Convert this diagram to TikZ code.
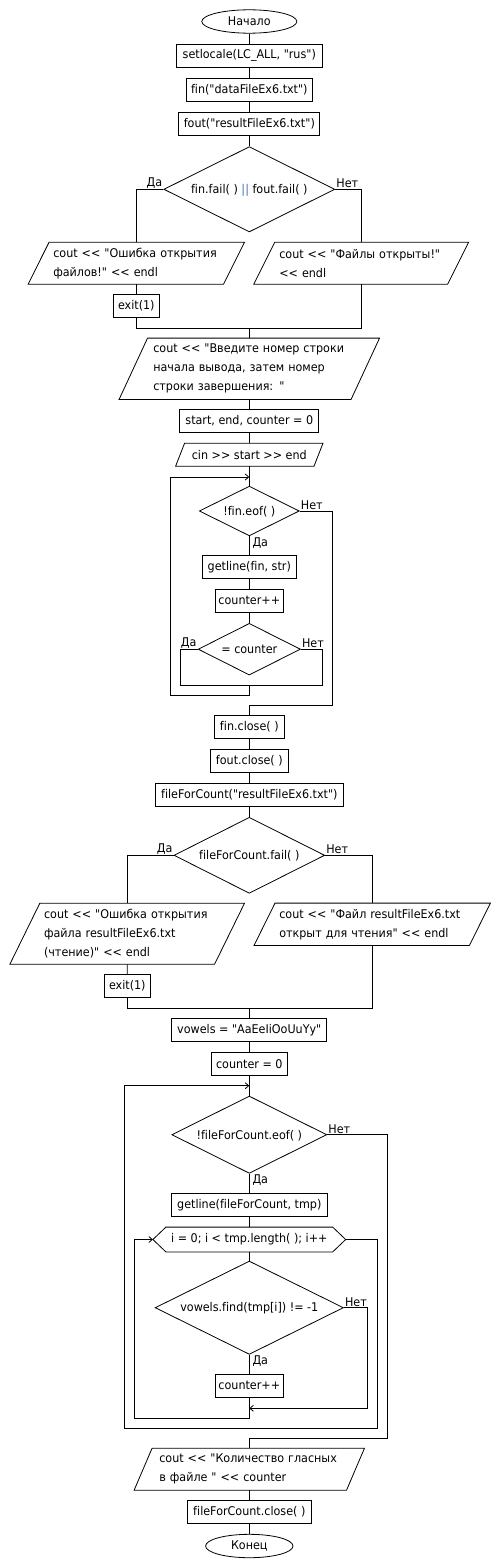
\documentclass[tikz,border=0pt]{standalone}
\usepackage{fontspec}
\setmainfont{DejaVu Sans}[Ligatures={TeXOff,NoCommon},FakeStretch=0.93]
\usetikzlibrary{arrows.meta,shapes.geometric}
\definecolor{barblue}{HTML}{2E6FD0}
\begin{document}
\begin{tikzpicture}[x=1pt,y=-1pt,
  every node/.style={font=\fontsize{12}{19}\selectfont, inner sep=0pt, align=left},
  ln/.style={line width=0.8pt},
  arr/.style={ln,-{Straight Barb[length=3.5pt,width=6pt]}},
  box/.style={draw, ln, rectangle, minimum height=23pt},
  term/.style={draw, ln, ellipse, minimum height=23.4pt},
  dec/.style={draw, ln, diamond, aspect=2},
  io/.style={rectangle},
  lbl/.style={font=\fontsize{12}{13}\selectfont, inner sep=1pt}]
\newcommand\drawpara[2]{\draw[ln] ([xshift=#2pt]#1.north west) -- ([xshift=#2pt]#1.north east) -- ([xshift=-#2pt]#1.south east) -- ([xshift=-#2pt]#1.south west) -- cycle;}
\useasboundingbox (0,0) rectangle (500,1568);

% top section
\node[term, minimum width=95pt] (start) at (249.3,21.5) {Начало};
\node[box, minimum width=146pt] (setloc) at (249.3,55.7) {setlocale(LC\_ALL, "rus")};
\node[box, minimum width=126pt] (fin) at (249.3,89.9) {fin("dataFileEx6.txt")};
\node[box, minimum width=141pt] (fout) at (249.3,124) {fout("resultFileEx6.txt")};
\node[dec, minimum width=171pt, minimum height=85.3pt] (d1) at (249.3,189.3) {};
\node (d1t) at (249.3,190) {fin.fail( ) {\color{barblue}||} fout.fail( )};
\node[lbl, anchor=south east] (d1y) at (d1.west) {Да};
\node[lbl, anchor=south west] (d1n) at (d1.east) {Нет};

\node[io, inner xsep=14.5pt, text width=166pt, minimum height=41.7pt] (p1) at (136.3,263.2) {\mbox{cout << "Ошибка открытия}\\\mbox{файлов!" << endl}};
\drawpara{p1}{10.5}
\node[io, inner xsep=14.85pt, text width=163.8pt, minimum height=41.7pt] (p2) at (361.2,263.2) {\mbox{cout << "Файлы открыты!"}\\\mbox{<< endl}};
\drawpara{p2}{10.5}
\node[box, minimum width=46pt] (ex1) at (136.3,305.8) {exit(1)};
\coordinate (m1) at (249.3,328.3);

\node[io, inner xsep=19.8pt, text width=192pt, minimum height=61pt] (p3) at (249.3,368.8) {\mbox{cout << "Введите номер строки}\\\mbox{начала вывода, затем номер}\\\mbox{строки завершения: "}};
\drawpara{p3}{14.25}
\node[box, minimum width=139pt] (sec) at (249.3,420.8) {start, end, counter = 0};
\node[io, minimum width=138pt, minimum height=22.7pt] (p4) at (249.3,454.7) {cin >> start >> end};
\drawpara{p4}{4.5}

% first loop
\coordinate (lt1) at (249.3,477);
\node[dec, minimum width=100pt, minimum height=49.7pt] (d2) at (249.3,511) {};
\node (d2t) at (249.3,511.5) {!fin.eof( )};
\node[lbl, anchor=south west] (d2n) at (d2.east) {Нет};
\node[lbl, anchor=north west] (d2y) at ([xshift=2pt]d2.south) {Да};
\node[box, minimum width=94pt] (gl1) at (249.3,567) {getline(fin, str)};
\node[box, minimum width=68pt] (cc1) at (249.3,600.8) {counter++};
\node[dec, minimum width=102.3pt, minimum height=51.7pt] (d3) at (249.3,649.2) {};
\node (d3t) at (249.3,649.5) {= counter};
\node[lbl, anchor=south east] (d3y) at (d3.west) {Да};
\node[lbl, anchor=south west] (d3n) at (d3.east) {Нет};
\coordinate (c3l) at (180,685);
\coordinate (c3r) at (322.3,685);
\coordinate (j3) at (249.3,685);
\coordinate (lb1) at (170,695);
\coordinate (x2) at (332.3,705.3);

\node[box, minimum width=70pt] (fcl) at (249.3,726.8) {fin.close( )};
\node[box, minimum width=78pt] (focl) at (249.3,760.8) {fout.close( )};
\node[box, minimum width=188pt] (ffc) at (249.3,794.7) {fileForCount("resultFileEx6.txt")};
\node[dec, minimum width=150.7pt, minimum height=76pt] (d4) at (249.3,855.3) {};
\node (d4t) at (249.3,856) {fileForCount.fail( )};
\node[lbl, anchor=south east] (d4y) at (d4.west) {Да};
\node[lbl, anchor=south west] (d4n) at (d4.east) {Нет};

\node[io, inner xsep=19pt, text width=166.3pt, minimum height=60.7pt] (p5) at (127.2,933.7) {\mbox{cout << "Ошибка открытия}\\\mbox{файла resultFileEx6.txt}\\\mbox{(чтение)" << endl}};
\drawpara{p5}{15}
\node[io, inner xsep=14.6pt, text width=185.8pt, minimum height=42pt] (p6) at (372.2,924.3) {\mbox{cout << "Файл resultFileEx6.txt}\\\mbox{открыт для чтения" << endl}};
\drawpara{p6}{10.5}
\node[box, minimum width=46pt] (ex2) at (127.3,985.8) {exit(1)};
\coordinate (m2) at (249.3,1008.3);
\node[box, minimum width=155pt] (vow) at (249.3,1029.8) {vowels = "AaEeIiOoUuYy"};
\node[box, minimum width=76pt] (cz) at (249.3,1063.8) {counter = 0};

% second loop
\coordinate (lt2) at (249.3,1085.7);
\node[dec, minimum width=155pt, minimum height=77.3pt] (d5) at (249.3,1134.7) {};
\node (d5t) at (249.3,1135.5) {!fileForCount.eof( )};
\node[lbl, anchor=south west] (d5n) at (d5.east) {Нет};
\node[lbl, anchor=north west] (d5y) at ([xshift=2pt]d5.south) {Да};
\node[box, minimum width=156.4pt] (gl2) at (249.3,1204.7) {getline(fileForCount, tmp)};
\node[rectangle, minimum width=192.4pt, minimum height=24.4pt] (hex) at (249.3,1239.5) {i = 0; i < tmp.length( ); i++};
\draw[ln] (hex.west) -- ([xshift=13pt]hex.north west) -- ([xshift=-13pt]hex.north east) -- (hex.east) -- ([xshift=-13pt]hex.south east) -- ([xshift=13pt]hex.south west) -- cycle;
\node[dec, minimum width=188.3pt, minimum height=93.3pt] (d6) at (249.3,1307.7) {};
\node (d6t) at (249.3,1308.5) {vowels.find(tmp[i]) != -1};
\node[lbl, anchor=south west] (d6n) at (d6.east) {Нет};
\node[lbl, anchor=north west] (d6y) at ([xshift=2pt]d6.south) {Да};
\node[box, minimum width=68pt] (cc2) at (249.3,1385.8) {counter++};
\coordinate (x6) at (367.3,1408.3);
\coordinate (j6) at (249.3,1408.3);
\coordinate (il) at (134.3,1418.3);
\coordinate (hr) at (377.7,1428.3);
\coordinate (ol) at (124.3,1428.3);
\coordinate (x5) at (387.3,1438.3);

\node[io, inner xsep=16pt, text width=180pt, minimum height=41.7pt] (p7) at (249.3,1469.2) {\mbox{cout << "Количество гласных}\\\mbox{в файле " << counter}};
\drawpara{p7}{9}
\node[box, minimum width=124.7pt] (fcc) at (249.3,1511.5) {fileForCount.close( )};
\node[term, minimum width=87.4pt] (end) at (249.3,1546) {Конец};

% connectors
\draw[ln] (start) -- (setloc);
\draw[ln] (setloc) -- (fin);
\draw[ln] (fin) -- (fout);
\draw[ln] (fout) -- (d1.north);
\draw[ln] (d1.west) -| (p1.north);
\draw[ln] (d1.east) -| (p2.north);
\draw[ln] (p1.south) -- (ex1.north);
\draw[ln] (ex1.south) |- (m1);
\draw[ln] (p2.south) |- (m1);
\draw[ln] (m1) -- (p3.north);
\draw[ln] (p3.south) -- (sec.north);
\draw[ln] (sec.south) -- (p4.north);
\draw[ln] (p4.south) -- (d2.north);
\draw[ln] (d2.south) -- (gl1.north);
\draw[ln] (gl1) -- (cc1);
\draw[ln] (cc1.south) -- (d3.north);
\draw[ln] (d3.west) -| (c3l) -- (c3r) |- (d3.east);
\draw[arr] (j3) |- (lb1) |- (lt1);
\draw[ln] (d2.east) -| (x2) -| (fcl.north);
\draw[ln] (fcl) -- (focl);
\draw[ln] (focl) -- (ffc);
\draw[ln] (ffc.south) -- (d4.north);
\draw[ln] (d4.west) -| (p5.north);
\draw[ln] (d4.east) -| (p6.north);
\draw[ln] (p5.south) -- (ex2.north);
\draw[ln] (ex2.south) |- (m2);
\draw[ln] (p6.south) |- (m2);
\draw[ln] (m2) -- (vow.north);
\draw[ln] (vow) -- (cz);
\draw[ln] (cz.south) -- (d5.north);
\draw[ln] (d5.south) -- (gl2.north);
\draw[ln] (gl2.south) -- (hex.north);
\draw[ln] (hex.south) -- (d6.north);
\draw[ln] (d6.south) -- (cc2.north);
\draw[arr] (d6.east) -| (x6) -- (j6);
\draw[arr] (cc2.south) |- (il) |- (hex.west);
\draw[arr] (hex.east) -| (hr) -- (ol) |- (lt2);
\draw[ln] (d5.east) -| (x5) -| (p7.north);
\draw[ln] (p7.south) -- (fcc.north);
\draw[ln] (fcc) -- (end);
\end{tikzpicture}
\end{document}
